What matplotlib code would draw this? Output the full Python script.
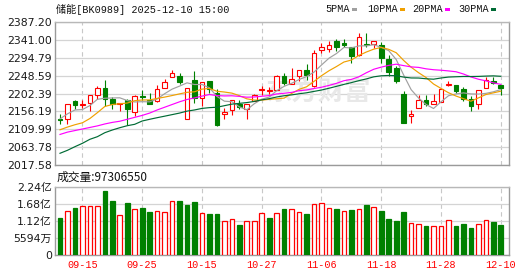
#!/usr/bin/env python3
"""Daily K-line chart of the 储能 board index (BK0989) with PMA lines and volume."""

import matplotlib

matplotlib.use("Agg")

import matplotlib.pyplot as plt
import numpy as np
from matplotlib.patches import Rectangle

TITLE = "储能[BK0989] 2025-12-10 15:00"
LAST_VOLUME = "97306550"

dates = [
    "09-10", "09-11", "09-12", "09-15", "09-16", "09-17", "09-18", "09-19", "09-22", "09-23",
    "09-24", "09-25", "09-26", "09-29", "09-30", "10-09", "10-10", "10-13", "10-14", "10-15",
    "10-16", "10-17", "10-20", "10-21", "10-22", "10-23", "10-24", "10-27", "10-28", "10-29",
    "10-30", "10-31", "11-03", "11-04", "11-05", "11-06", "11-07", "11-10", "11-11", "11-12",
    "11-13", "11-14", "11-17", "11-18", "11-19", "11-20", "11-21", "11-24", "11-25", "11-26",
    "11-27", "11-28", "12-01", "12-02", "12-03", "12-04", "12-05", "12-08", "12-09", "12-10",
]
tick_dates = ["09-15", "09-25", "10-15", "10-27", "11-06", "11-18", "11-28", "12-10"]

opens = [
    2138.0, 2138.0, 2183.2, 2172.8, 2177.2, 2197.8, 2216.5, 2189.5, 2174.6, 2184.4,
    2154.0, 2195.9, 2185.7, 2183.6, 2215.8, 2244.1, 2247.4, 2136.0, 2237.1, 2190.8,
    2234.6, 2203.7, 2148.8, 2159.1, 2175.4, 2162.5, 2183.1, 2211.4, 2208.8, 2211.4,
    2247.4, 2228.1, 2247.4, 2262.9, 2221.7, 2313.6, 2316.2, 2337.5, 2331.6, 2321.3,
    2301.5, 2329.8, 2330.6, 2328.5, 2291.2, 2268.0, 2201.1, 2143.2, 2164.3, 2185.7,
    2174.6, 2181.3, 2223.0, 2224.3, 2214.0, 2188.2, 2175.4, 2217.8, 2233.8, 2224.3,
]
highs = [
    2149.1, 2175.0, 2184.4, 2185.7, 2198.5, 2221.7, 2237.1, 2192.1, 2177.5, 2189.5,
    2197.5, 2210.6, 2202.9, 2225.0, 2239.7, 2262.9, 2255.9, 2217.0, 2260.3, 2233.0,
    2235.3, 2213.9, 2163.8, 2185.0, 2185.7, 2174.5, 2201.1, 2221.7, 2219.1, 2249.0,
    2255.2, 2267.2, 2262.9, 2277.6, 2314.4, 2332.4, 2338.3, 2342.7, 2342.7, 2322.0,
    2357.3, 2357.3, 2337.5, 2334.2, 2302.3, 2273.2, 2208.8, 2159.9, 2198.5, 2198.5,
    2201.1, 2214.0, 2234.6, 2224.3, 2219.9, 2195.0, 2211.0, 2245.6, 2245.6, 2224.3,
]
lows = [
    2124.0, 2124.0, 2162.5, 2165.1, 2158.1, 2189.0, 2171.5, 2162.5, 2157.3, 2120.8,
    2143.7, 2185.7, 2174.1, 2180.0, 2215.3, 2243.6, 2226.8, 2135.5, 2178.7, 2171.5,
    2203.7, 2120.0, 2135.5, 2148.3, 2161.7, 2136.0, 2182.6, 2199.8, 2201.1, 2211.0,
    2224.3, 2226.8, 2234.6, 2237.1, 2220.4, 2305.9, 2310.0, 2310.5, 2321.3, 2280.1,
    2300.2, 2322.8, 2319.5, 2280.9, 2247.4, 2229.4, 2126.4, 2125.2, 2163.8, 2170.2,
    2174.1, 2180.5, 2222.5, 2204.5, 2183.1, 2158.1, 2161.7, 2217.3, 2226.0, 2198.5,
]
closes = [
    2135.4, 2174.6, 2173.0, 2175.4, 2197.8, 2215.8, 2189.0, 2176.6, 2177.2, 2163.0,
    2197.2, 2192.6, 2174.6, 2213.2, 2231.5, 2255.9, 2232.0, 2216.5, 2191.4, 2232.0,
    2214.0, 2121.3, 2154.6, 2184.4, 2166.9, 2174.1, 2199.8, 2214.0, 2211.4, 2248.7,
    2230.2, 2238.9, 2262.1, 2250.1, 2305.9, 2321.3, 2326.5, 2322.1, 2328.5, 2298.9,
    2348.6, 2327.2, 2336.8, 2293.8, 2257.0, 2234.6, 2127.2, 2148.8, 2185.7, 2174.1,
    2183.1, 2213.2, 2226.8, 2208.8, 2188.2, 2170.2, 2210.6, 2235.9, 2228.6, 2217.3,
]

ma5 = [
    2137.0, 2150.0, 2160.0, 2161.0, 2171.3, 2187.4, 2190.2, 2190.9, 2191.3, 2184.3,
    2180.6, 2181.3, 2180.9, 2188.1, 2201.8, 2213.6, 2221.4, 2229.8, 2225.5, 2225.6,
    2217.2, 2195.0, 2182.7, 2181.3, 2168.2, 2160.3, 2176.0, 2187.8, 2193.2, 2209.6,
    2220.8, 2228.6, 2238.3, 2246.0, 2257.4, 2275.7, 2293.2, 2305.2, 2320.9, 2319.5,
    2324.9, 2325.1, 2328.0, 2321.1, 2312.7, 2289.9, 2249.9, 2212.3, 2190.7, 2174.1,
    2163.8, 2181.0, 2196.6, 2201.2, 2204.0, 2201.4, 2200.9, 2202.7, 2206.7, 2212.5,
]
ma10 = [
    2109.0, 2116.0, 2122.0, 2127.0, 2138.0, 2153.0, 2169.0, 2174.0, 2176.0, 2177.8,
    2183.9, 2185.7, 2185.9, 2189.7, 2193.1, 2197.1, 2201.4, 2205.4, 2206.8, 2213.7,
    2215.4, 2208.2, 2206.2, 2203.4, 2196.9, 2188.7, 2185.5, 2185.3, 2187.3, 2188.9,
    2190.5, 2202.3, 2213.1, 2219.6, 2233.5, 2248.2, 2260.9, 2271.7, 2283.4, 2288.5,
    2300.3, 2309.1, 2316.6, 2321.0, 2316.1, 2307.4, 2287.5, 2270.1, 2255.9, 2243.4,
    2226.8, 2215.4, 2204.4, 2195.9, 2189.1, 2182.6, 2191.0, 2199.7, 2204.0, 2208.3,
]
ma20 = [
    2097.0, 2103.0, 2107.0, 2111.0, 2115.0, 2119.0, 2124.0, 2128.0, 2131.0, 2136.0,
    2141.0, 2146.0, 2152.0, 2160.0, 2167.0, 2174.0, 2181.0, 2187.0, 2191.0, 2195.7,
    2199.7, 2197.0, 2196.1, 2196.5, 2195.0, 2192.9, 2193.4, 2195.3, 2197.0, 2201.3,
    2203.0, 2205.3, 2209.6, 2211.5, 2215.2, 2218.5, 2223.2, 2228.5, 2235.3, 2238.7,
    2245.4, 2255.7, 2264.8, 2270.3, 2274.8, 2277.8, 2274.2, 2270.9, 2269.6, 2265.9,
    2263.6, 2262.3, 2260.5, 2258.4, 2252.6, 2245.0, 2239.2, 2234.9, 2229.9, 2225.8,
]
ma30 = [
    2048.5, 2056.2, 2065.5, 2074.2, 2084.5, 2091.2, 2101.5, 2108.4, 2114.3, 2119.5,
    2123.1, 2131.6, 2136.0, 2140.1, 2144.0, 2148.0, 2152.0, 2157.0, 2160.0, 2164.0,
    2166.0, 2167.0, 2171.0, 2175.0, 2177.0, 2179.0, 2182.0, 2186.0, 2189.0, 2193.4,
    2196.6, 2198.8, 2201.7, 2204.2, 2207.8, 2211.3, 2215.9, 2220.8, 2225.8, 2230.4,
    2235.4, 2239.9, 2245.3, 2248.0, 2248.8, 2248.1, 2244.6, 2242.4, 2242.2, 2240.3,
    2239.2, 2242.3, 2244.7, 2245.5, 2246.2, 2246.1, 2246.4, 2247.2, 2247.8, 2246.7,
]

# volume in 亿 (1e8)
volumes = [
    1.207, 1.445, 1.533, 1.598, 1.598, 1.598, 2.097, 1.771, 1.305, 1.706,
    1.500, 1.543, 1.422, 1.445, 1.412, 1.771, 1.771, 1.641, 1.739, 1.370,
    1.347, 1.347, 1.119, 1.174, 0.988, 1.119, 1.119, 1.370, 1.217, 1.370,
    1.510, 1.500, 1.412, 1.347, 1.673, 1.696, 1.533, 1.510, 1.445, 1.478,
    1.500, 1.641, 1.566, 1.445, 1.184, 1.119, 1.412, 1.044, 1.011, 0.946,
    0.946, 0.946, 1.142, 0.946, 1.011, 0.891, 1.011, 1.142, 1.076, 0.973,
]

price_ticks = [2017.58, 2063.78, 2109.99, 2156.19, 2202.39, 2248.59, 2294.79, 2341.00, 2387.20]
volume_ticks = [0, 0.5594, 1.1188, 1.6782, 2.2376]
volume_tick_labels = ["0", "5594万", "1.12亿", "1.68亿", "2.24亿"]

ma_names = ["5PMA", "10PMA", "20PMA", "30PMA"]

RED = "#ff0000"
GREEN = "#008000"
MA_COLORS = ["#a0a0a0", "#f0a000", "#ff00ff", "#006b35"]
GRID = "#d4d4d4"
SPINE = "#9a9a9a"
W, H = 530, 276

MONO = ["Liberation Mono", "Noto Sans CJK SC"]
SANS = ["DejaVu Sans", "Noto Sans CJK SC"]


def px_rect(left, top, right, bottom):
    return [left / W, 1 - bottom / H, (right - left) / W, (bottom - top) / H]


def style_axes(ax, tick_pos):
    for sp in ax.spines.values():
        sp.set_color(SPINE)
        sp.set_linewidth(1.0)
    ax.spines["top"].set_color("#b8b8b8")
    ax.set_xticks(tick_pos)
    ax.grid(axis="y", color=GRID, lw=0.9, ls="-")
    ax.grid(axis="x", color="#c8c8c8", lw=0.8, ls=(0, (4, 3)))
    ax.set_axisbelow(True)
    ax.tick_params(length=0, pad=2.2, labelsize=7.8, labelcolor="#1a1a1a")
    for lab in ax.get_yticklabels():
        lab.set_fontfamily(SANS)


def main() -> None:
    o = np.array(opens)
    h = np.array(highs)
    l = np.array(lows)
    c = np.array(closes)
    x = np.arange(len(c))
    tick_pos = [dates.index(d) for d in tick_dates]

    fig = plt.figure(figsize=(W / 100, H / 100), dpi=100)
    ax = fig.add_axes(px_rect(55, 21.7, 509, 165.3))
    axv = fig.add_axes(px_rect(55, 186.7, 509, 255.3))

    # candles: red hollow when close >= open, green filled otherwise
    up = c >= o
    cols = np.where(up, RED, GREEN)
    ax.vlines(x, l, h, colors=cols, lw=0.8, zorder=3)
    body_lo = np.minimum(o, c)
    body_h = np.maximum(np.abs(c - o), 0.4)
    ax.bar(x, body_h, bottom=body_lo, width=0.62,
           color=np.where(up, "white", GREEN), edgecolor=cols, linewidth=0.8, zorder=4)

    for vals, col in zip([ma5, ma10, ma20, ma30], MA_COLORS):
        ax.plot(x, vals, color=col, lw=0.85, zorder=5)

    ax.text(0.58, 0.51, "东方财富", transform=ax.transAxes, ha="center", va="center",
            fontsize=19, color="#e8e8e8", fontweight="bold",
            fontfamily=["Noto Sans CJK SC"], zorder=1)

    ax.set_xlim(-0.67, 60.1)
    ax.set_ylim(price_ticks[0], price_ticks[-1])
    ax.set_yticks(price_ticks)
    ax.set_yticklabels([f"{t:.2f}" for t in price_ticks])
    style_axes(ax, tick_pos)
    ax.tick_params(labelbottom=False)

    # volume bars coloured by close vs previous close
    prev = np.r_[o[0], c[:-1]]
    vup = c >= prev
    vcols = np.where(vup, RED, GREEN)
    axv.bar(x, volumes, width=0.62, color=np.where(vup, "white", GREEN),
            edgecolor=vcols, linewidth=0.9, zorder=3)
    axv.set_xlim(-0.67, 60.1)
    axv.set_ylim(0, volume_ticks[-1])
    axv.set_yticks(volume_ticks)
    axv.set_yticklabels(volume_tick_labels)
    style_axes(axv, tick_pos)
    axv.set_xticklabels(tick_dates)
    axv.tick_params(axis="x", pad=3.6, labelcolor=RED)
    for lab in axv.get_xticklabels():
        lab.set_fontfamily(["Liberation Mono"])
        lab.set_fontsize(7.3)

    fig.text(55.7 / W, 1 - 9.5 / H, TITLE, fontfamily=MONO, fontsize=7.3,
             va="center", ha="left", color="#111111")
    fig.text(57 / W, 1 - 177.7 / H, f"成交量:{LAST_VOLUME}", fontfamily=["Noto Sans CJK SC"],
             fontsize=8.5, va="center", ha="left", color="#111111")

    # legend: name followed by a small colour square
    legend_x = [325, 367, 412, 458.4]
    for name, col, lx in zip(ma_names, MA_COLORS, legend_x):
        t = fig.text(lx / W, 1 - 9.5 / H, name, fontfamily=MONO, fontsize=7.3,
                     va="center", ha="left", color="#111111")
        fig.canvas.draw()
        bb = t.get_window_extent()
        sx = bb.x1 + 2
        fig.add_artist(Rectangle((sx / W, (H - 10.8) / H), 5 / W, 3 / H,
                                 transform=fig.transFigure, color=col, lw=0))

    fig.savefig("out.png", dpi=100)
    plt.close(fig)


if __name__ == "__main__":
    main()
